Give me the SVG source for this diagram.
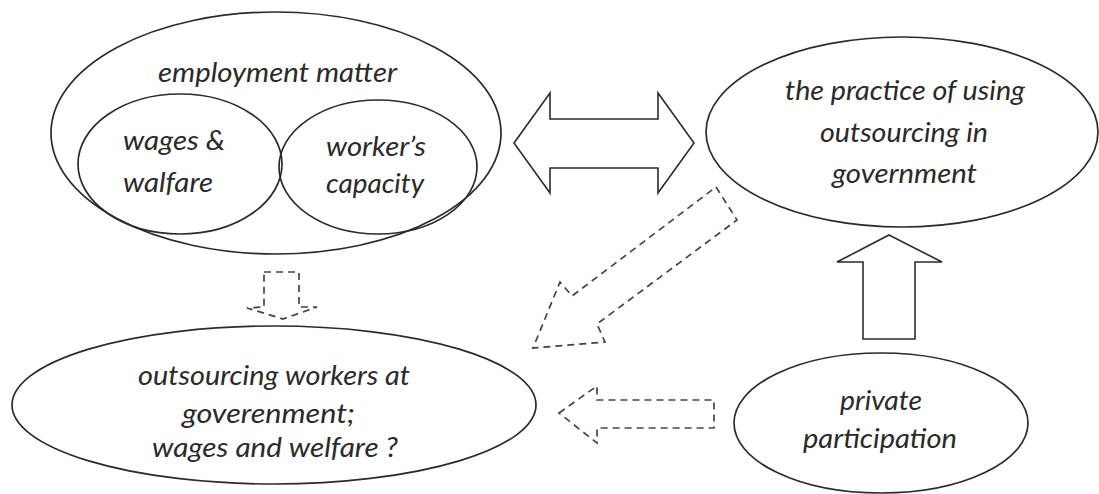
<svg xmlns="http://www.w3.org/2000/svg" width="1099" height="494" viewBox="0 0 1099 494">
<style>
.node{fill:none;stroke:#2b2b2b;stroke-width:1.7}
.t{font-family:Lato,"Open Sans","Liberation Sans",sans-serif;font-style:italic;font-size:27px;fill:#2a2a2a}
.solid{fill:#fff;stroke:#2b2b2b;stroke-width:1.6;stroke-linejoin:miter}
.dash{fill:none;stroke:#444;stroke-width:1.7;stroke-dasharray:7 5}
</style>
<rect width="1099" height="494" fill="#fff"/>
<g id="employment-matter">
<ellipse class="node" cx="276" cy="133" rx="225" ry="121"/>
<text class="t" x="158" y="82" textLength="239" lengthAdjust="spacingAndGlyphs">employment matter</text>
</g>
<g id="wages-walfare">
<ellipse class="node" cx="180" cy="164" rx="102" ry="70"/>
<text class="t" x="123" y="150" textLength="102" lengthAdjust="spacingAndGlyphs">wages &amp;</text>
<text class="t" x="123" y="192" textLength="90" lengthAdjust="spacingAndGlyphs">walfare</text>
</g>
<g id="workers-capacity">
<ellipse class="node" cx="378" cy="167" rx="99" ry="67"/>
<text class="t" x="326" y="156" textLength="100" lengthAdjust="spacingAndGlyphs">worker’s</text>
<text class="t" x="326" y="193" textLength="98" lengthAdjust="spacingAndGlyphs">capacity</text>
</g>
<g id="practice">
<ellipse class="node" cx="902" cy="132" rx="196" ry="95"/>
<text class="t" x="785" y="100" textLength="240" lengthAdjust="spacingAndGlyphs">the practice of using</text>
<text class="t" x="820" y="142" textLength="168" lengthAdjust="spacingAndGlyphs">outsourcing in</text>
<text class="t" x="832" y="183" textLength="145" lengthAdjust="spacingAndGlyphs">government</text>
</g>
<g id="outsourcing-workers">
<ellipse class="node" cx="274" cy="405" rx="262" ry="79"/>
<text class="t" x="138" y="385" textLength="272" lengthAdjust="spacingAndGlyphs">outsourcing workers at</text>
<text class="t" x="182" y="423" textLength="173" lengthAdjust="spacingAndGlyphs">goverenment;</text>
<text class="t" x="152" y="457" textLength="246" lengthAdjust="spacingAndGlyphs">wages and welfare ?</text>
</g>
<g id="private-participation">
<ellipse class="node" cx="881" cy="423" rx="147" ry="70"/>
<text class="t" x="840" y="410" textLength="82" lengthAdjust="spacingAndGlyphs">private</text>
<text class="t" x="803" y="448" textLength="154" lengthAdjust="spacingAndGlyphs">participation</text>
</g>
<g id="connectors">
<polygon class="solid" points="514,143 550,93 550,119 658,119 658,93 694,143 658,193 658,168 550,168 550,193"/>
<polygon class="solid" points="889,235 942,262 915,262 915,339 863,339 863,262 837,262"/>
<polygon class="dash" points="716,187 737,220 597,324 605,342 533,348 560,282 572,296"/>
<polygon class="dash" points="264,272 299,272 299,307 317,307 283,319 247,308 264,307"/>
<polygon class="dash" points="559,413 597,386 597,400 714,400 714,428 597,428 597,443"/>
</g>
</svg>
